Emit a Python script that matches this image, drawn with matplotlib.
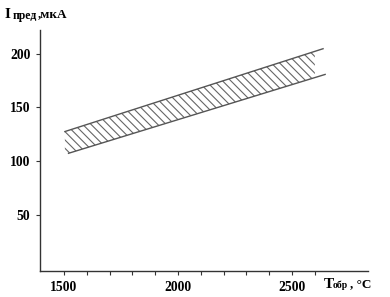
import matplotlib
matplotlib.use("Agg")
import matplotlib.pyplot as plt
import numpy as np

# Data
upper_T = [1504, 2636]
upper_I = [127.6, 204.6]
lower_T = [1520, 2645]
lower_I = [107.4, 180.7]
hatch_T = [1504, 2600]
xticks = [1500, 2000, 2500]
xminor = list(range(1600, 2700, 100))
yticks = [50, 100, 150, 200]

plt.rcParams['font.family'] = ['Liberation Serif', 'DejaVu Serif']
plt.rcParams['font.weight'] = 'bold'
plt.rcParams['hatch.linewidth'] = 0.8
plt.rcParams['hatch.color'] = '#666666'

W, H = 390, 297
fig = plt.figure(figsize=(3.9, 2.97), dpi=100)
ax = fig.add_axes([40/W, (H-271)/H, (368-40)/W, (271-30)/H])


def lin(xs, ys, x):
    return ys[0] + (np.asarray(x) - xs[0]) * (ys[1]-ys[0]) / (xs[1]-xs[0])


xf = np.linspace(hatch_T[0], hatch_T[1], 50)
ax.fill_between(xf, lin(lower_T, lower_I, xf), lin(upper_T, upper_I, xf),
                facecolor='none', edgecolor='#666666', hatch='\\\\\\\\', linewidth=0)
ax.plot(upper_T, upper_I, color='#555555', lw=1.0)
ax.plot(lower_T, lower_I, color='#555555', lw=1.0)

ax.set_xlim(1395, 2833)
ax.set_ylim(-2, 222)
ax.set_xticks(xticks)
ax.set_xticks(xminor, minor=True)
ax.set_yticks(yticks)
for s in ['top', 'right']:
    ax.spines[s].set_visible(False)
for s in ['left', 'bottom']:
    ax.spines[s].set_color('#333333')
    ax.spines[s].set_linewidth(1.0)
ax.tick_params(axis='both', which='both', direction='out', length=3, width=0.8,
               color='#333333', labelsize=9.8, pad=4)
for lab in ax.get_xticklabels() + ax.get_yticklabels():
    lab.set_fontweight('bold')


def px(x, y):
    return x / W, 1 - y / H


# y label
fig.text(*px(5, 18), 'I', fontsize=11, fontweight='bold', va='baseline', ha='left')
fig.text(*px(12.5, 19.5), 'пред', fontsize=8.5, fontweight='bold', va='baseline', ha='left')
fig.text(*px(37.5, 17.5), ',мкА', fontsize=9.5, fontweight='bold', va='baseline', ha='left')
# x label
fig.text(*px(324, 287.5), 'T', fontsize=11, fontweight='bold', va='baseline', ha='left')
fig.text(*px(333, 287.5), 'обр', fontsize=7, fontweight='bold', va='baseline', ha='left')
fig.text(*px(350, 287.5), ', °C', fontsize=9.5, fontweight='bold', va='baseline', ha='left')

fig.savefig('out.png', dpi=100)
